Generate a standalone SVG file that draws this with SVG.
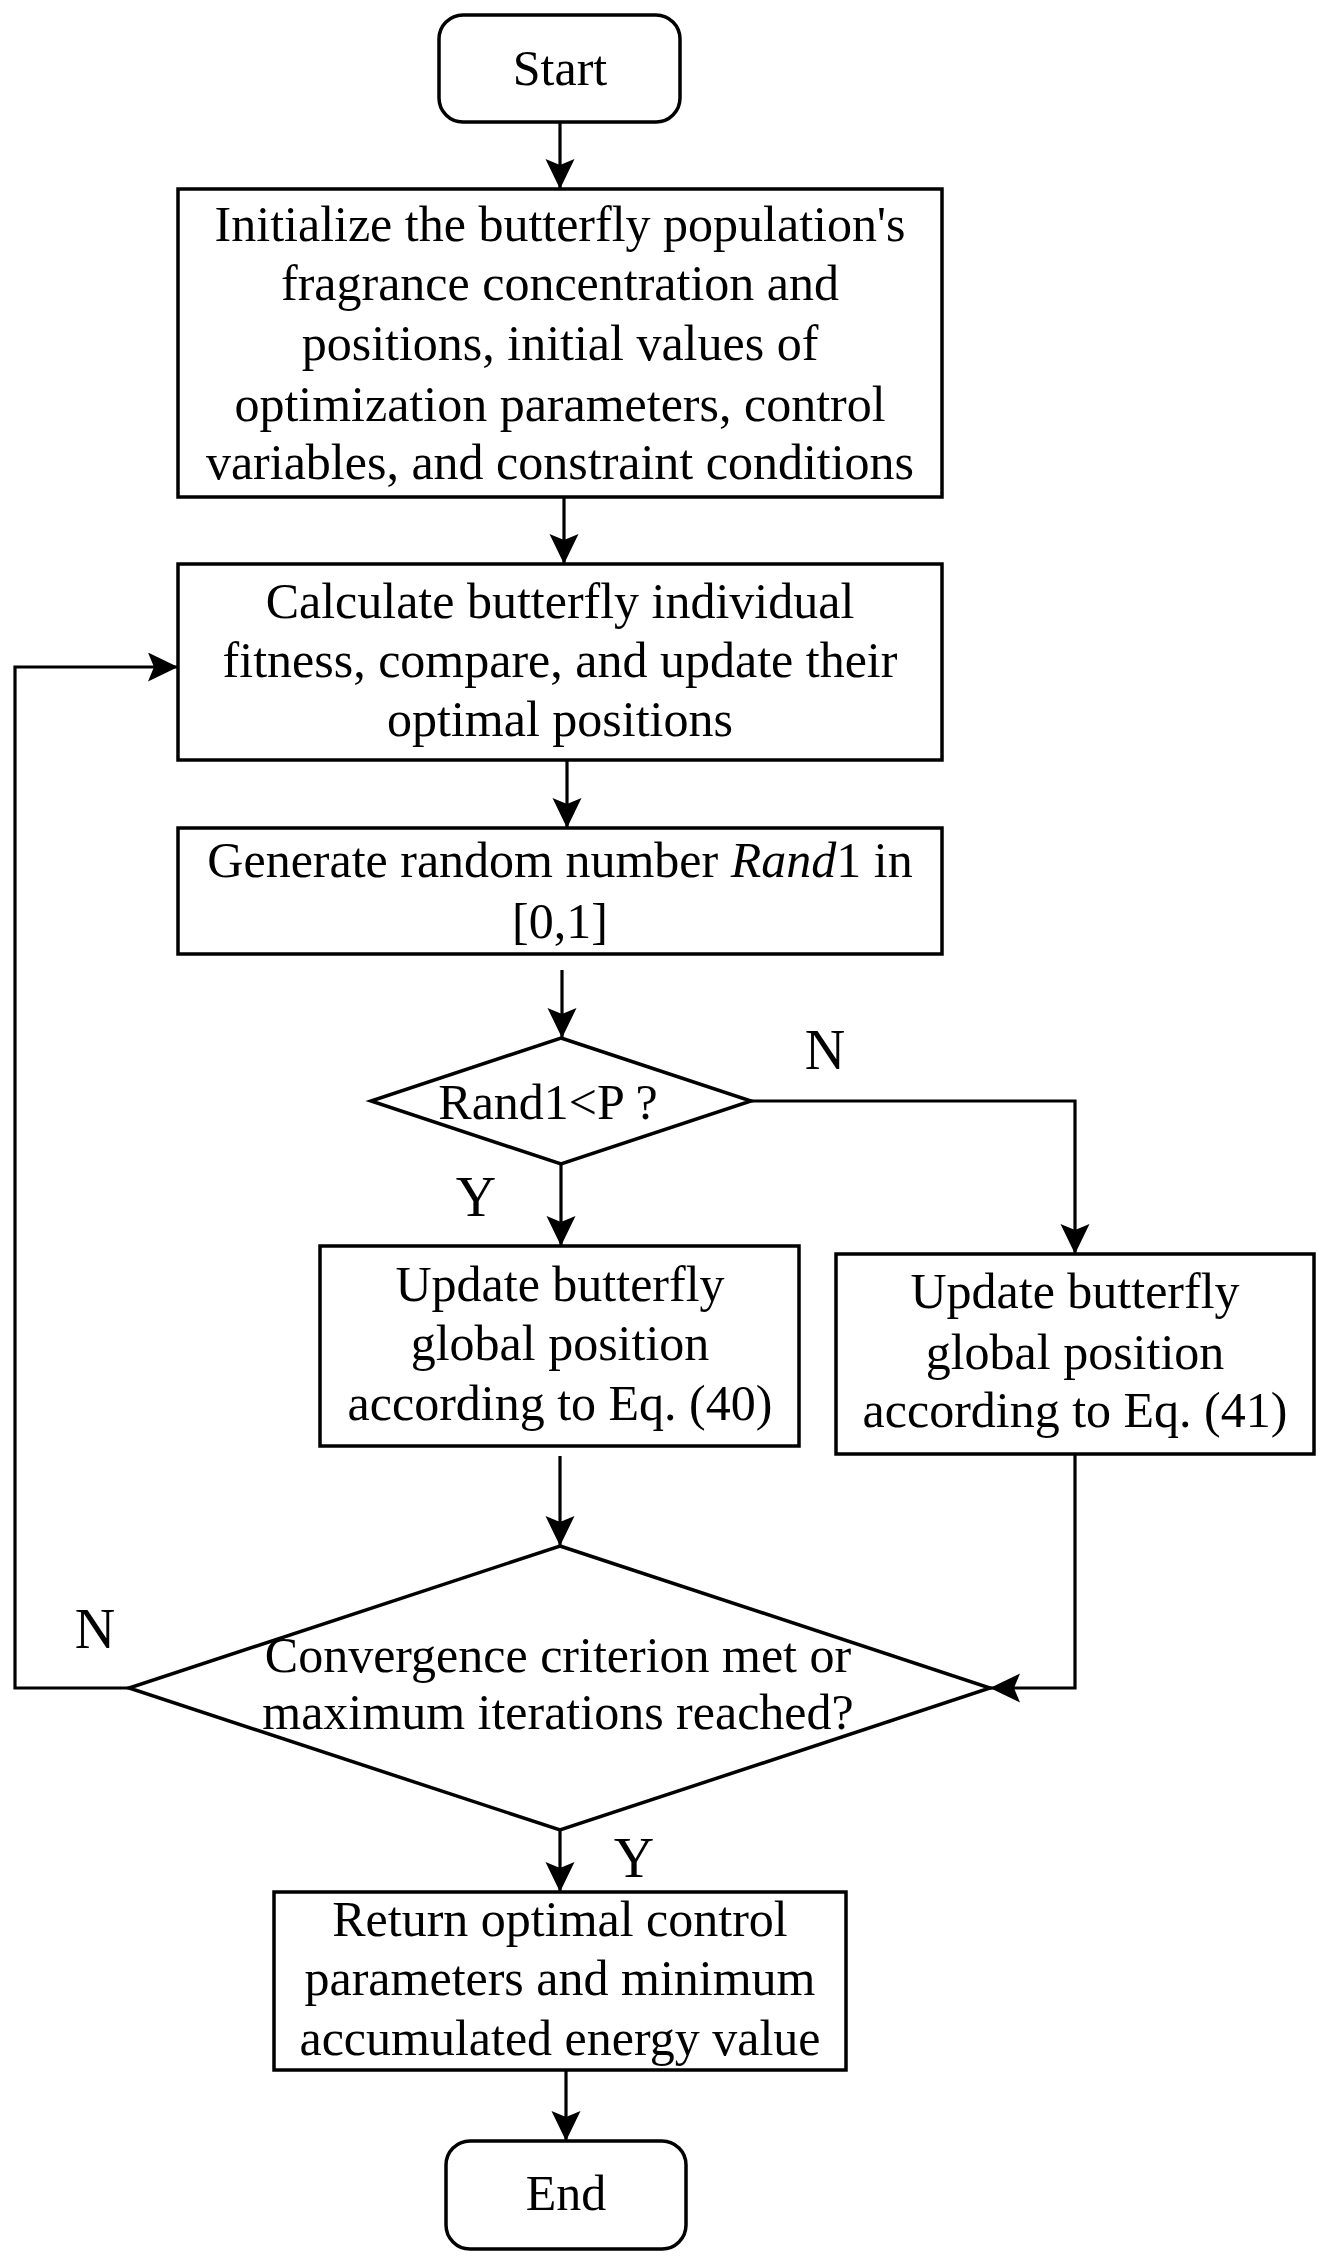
<svg xmlns="http://www.w3.org/2000/svg" width="1324" height="2264" viewBox="0 0 1324 2264">
<style>
.box{fill:#fff;stroke:#000;stroke-width:3.5}
.ln{fill:none;stroke:#000;stroke-width:3.2}
text{font-family:"Liberation Serif","Times New Roman",serif;fill:#000}
.t{font-size:50px;text-anchor:middle}
.lbl{font-size:56px;text-anchor:middle}
</style>
<defs>
<marker id="ah" markerUnits="userSpaceOnUse" markerWidth="32" markerHeight="32" refX="30" refY="14.5" orient="auto">
<path d="M0,0 L30,14.5 L0,29 L6,14.5 z" fill="#000"/>
</marker>
</defs>
<rect width="1324" height="2264" fill="#fff"/>
<g id="connectors">
<line class="ln" x1="560" y1="122" x2="560" y2="189" marker-end="url(#ah)"/>
<line class="ln" x1="564" y1="497" x2="564" y2="564" marker-end="url(#ah)"/>
<line class="ln" x1="567" y1="761" x2="567" y2="828" marker-end="url(#ah)"/>
<line class="ln" x1="562" y1="970" x2="562" y2="1038" marker-end="url(#ah)"/>
<line class="ln" x1="561" y1="1164" x2="561" y2="1246" marker-end="url(#ah)"/>
<polyline class="ln" points="751,1101 1075,1101 1075,1254" marker-end="url(#ah)"/>
<line class="ln" x1="560" y1="1456" x2="560" y2="1546" marker-end="url(#ah)"/>
<polyline class="ln" points="1075,1455 1075,1688 990,1688" marker-end="url(#ah)"/>
<polyline class="ln" points="129,1688 15,1688 15,667 178,667" marker-end="url(#ah)"/>
<line class="ln" x1="560" y1="1830" x2="560" y2="1892" marker-end="url(#ah)"/>
<line class="ln" x1="566" y1="2070" x2="566" y2="2141" marker-end="url(#ah)"/>
<text class="lbl" x="825" y="1069">N</text>
<text class="lbl" x="476" y="1216">Y</text>
<text class="lbl" x="95" y="1648">N</text>
<text class="lbl" x="634" y="1877">Y</text>
</g>
<g id="start">
<rect class="box" x="439" y="15" width="241" height="107" rx="24"/>
<text class="t" x="560" y="85">Start</text>
</g>
<g id="init">
<rect class="box" x="178" y="189" width="764" height="308"/>
<text class="t" x="560" y="241">Initialize the butterfly population's</text>
<text class="t" x="560" y="300">fragrance concentration and</text>
<text class="t" x="560" y="360">positions, initial values of</text>
<text class="t" x="560" y="421">optimization parameters, control</text>
<text class="t" x="560" y="479">variables, and constraint conditions</text>
</g>
<g id="calc">
<rect class="box" x="178" y="564" width="764" height="196"/>
<text class="t" x="560" y="618">Calculate butterfly individual</text>
<text class="t" x="560" y="677">fitness, compare, and update their</text>
<text class="t" x="560" y="736">optimal positions</text>
</g>
<g id="gen">
<rect class="box" x="178" y="828" width="764" height="126"/>
<text class="t" x="560" y="877">Generate random number <tspan font-style="italic">Rand</tspan>1 in</text>
<text class="t" x="560" y="938">[0,1]</text>
</g>
<g id="dec1">
<polygon class="box" points="561,1038 751,1101 561,1164 371,1101"/>
<text class="t" x="548" y="1119">Rand1&lt;P ?</text>
</g>
<g id="upd40">
<rect class="box" x="320" y="1246" width="479" height="200"/>
<text class="t" x="560" y="1301">Update butterfly</text>
<text class="t" x="560" y="1360">global position</text>
<text class="t" x="560" y="1420">according to Eq. (40)</text>
</g>
<g id="upd41">
<rect class="box" x="836" y="1254" width="478" height="200"/>
<text class="t" x="1075" y="1308">Update butterfly</text>
<text class="t" x="1075" y="1369">global position</text>
<text class="t" x="1075" y="1427">according to Eq. (41)</text>
</g>
<g id="dec2">
<polygon class="box" points="560,1546 990,1688 560,1830 129,1688"/>
<text class="t" x="558" y="1672">Convergence criterion met or</text>
<text class="t" x="558" y="1729">maximum iterations reached?</text>
</g>
<g id="ret">
<rect class="box" x="274" y="1892" width="572" height="178"/>
<text class="t" x="560" y="1936">Return optimal control</text>
<text class="t" x="560" y="1995">parameters and minimum</text>
<text class="t" x="560" y="2055">accumulated energy value</text>
</g>
<g id="end">
<rect class="box" x="446" y="2141" width="240" height="108" rx="24"/>
<text class="t" x="566" y="2210">End</text>
</g>
</svg>
